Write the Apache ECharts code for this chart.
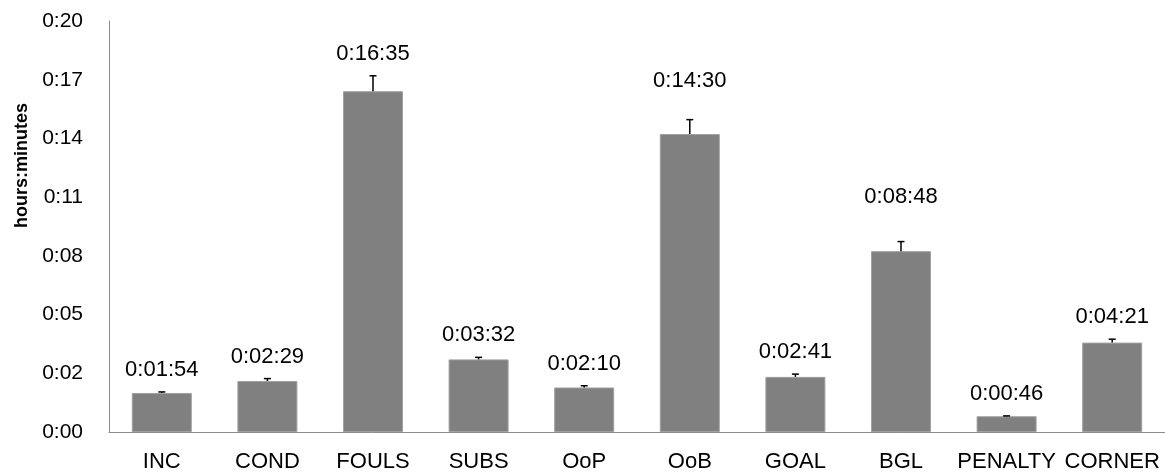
<!DOCTYPE html>
<html>
<head>
<meta charset="utf-8">
<script src="https://cdn.jsdelivr.net/npm/echarts@6/dist/echarts.min.js"></script>
<style>
html,body{margin:0;padding:0;background:#fff;}
#chart{width:1165px;height:476px;}
</style>
</head>
<body>
<div id="chart"></div>
<script>
// Data (seconds)
const categories = ['INC', 'COND', 'FOULS', 'SUBS', 'OoP', 'OoB', 'GOAL', 'BGL', 'PENALTY', 'CORNER'];
const meanSeconds = [114, 149, 995, 212, 130, 870, 161, 528, 46, 261];
const errorSeconds = [3, 7, 45, 6, 5, 42, 8, 28, 1, 10];
const yAxisMax = 1200;          // 0:20
const yAxisSteps = 7;

// Style-only tweaks for label placement (px above error-bar top)
const labelGap = 22;
const labelExtraRaise = { OoB: 17, BGL: 23 };

const FONT = "'Liberation Sans', Arial, sans-serif";

function pad2(n) { return (n < 10 ? '0' : '') + n; }
function fmtHMS(s) {
  const h = Math.floor(s / 3600);
  const m = Math.floor((s % 3600) / 60);
  const sec = Math.round(s % 60);
  return h + ':' + pad2(m) + ':' + pad2(sec);
}
function fmtHM(v) {
  const m = Math.floor(v / 60 + 1e-6);
  return Math.floor(m / 60) + ':' + pad2(m % 60);
}

const chart = echarts.init(document.getElementById('chart'));
chart.setOption({
  animation: false,
  backgroundColor: '#ffffff',
  grid: { left: 109, top: 21, width: 1058, height: 411, containLabel: false },
  xAxis: {
    type: 'category',
    data: categories,
    axisLine: { show: true, lineStyle: { color: '#8c8c8c', width: 1 } },
    axisTick: { show: false },
    axisLabel: { color: '#000', fontFamily: FONT, fontSize: 22, margin: 19, interval: 0 }
  },
  yAxis: {
    type: 'value',
    min: 0,
    max: yAxisMax,
    interval: yAxisMax / yAxisSteps,
    name: 'hours:minutes',
    nameLocation: 'middle',
    nameGap: 78,
    nameRotate: 90,
    nameTextStyle: { color: '#000', fontFamily: FONT, fontSize: 18, fontWeight: 'bold', padding: [0, 0, 0, 122] },
    splitLine: { show: false },
    axisLine: { show: true, lineStyle: { color: '#8c8c8c', width: 1 } },
    axisTick: { show: false },
    axisLabel: { color: '#000', fontFamily: FONT, fontSize: 21, margin: 26, formatter: fmtHM }
  },
  series: [
    {
      type: 'bar',
      data: meanSeconds,
      barWidth: 60,
      itemStyle: { color: '#808080', borderColor: '#a0a0a0', borderWidth: 1 }
    },
    {
      type: 'custom',
      data: meanSeconds.map((v, i) => [i, v, errorSeconds[i]]),
      z: 5,
      renderItem: function (params, api) {
        const i = api.value(0);
        const v = api.value(1);
        const e = api.value(2);
        const base = api.coord([i, v]);
        const top = api.coord([i, v + e]);
        const cap = 3.5;
        const raise = labelExtraRaise[categories[i]] || 0;
        return {
          type: 'group',
          children: [
            { type: 'line', shape: { x1: base[0], y1: base[1], x2: top[0], y2: top[1] },
              style: { stroke: '#000', lineWidth: 1.5 } },
            { type: 'line', shape: { x1: top[0] - cap, y1: top[1], x2: top[0] + cap, y2: top[1] },
              style: { stroke: '#000', lineWidth: 1.5 } },
            { type: 'text', x: top[0], y: top[1] - labelGap - raise,
              style: { text: fmtHMS(v), fill: '#000', font: '22px ' + FONT, align: 'center', verticalAlign: 'middle' } }
          ]
        };
      }
    }
  ]
});
</script>
</body>
</html>
